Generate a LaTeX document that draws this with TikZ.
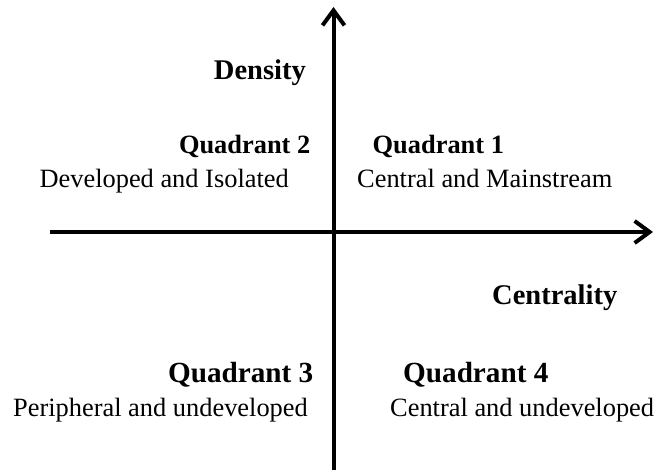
\documentclass[tikz,border=0pt]{standalone}
\usepackage{fontspec}
\setmainfont{Liberation Serif}
\usetikzlibrary{arrows.meta}
\begin{document}
\begin{tikzpicture}[x=1pt,y=1pt,
  axis/.style={line width=4pt,-{Straight Barb[length=15pt,width=22pt]}},
  lbl/.style={inner sep=0pt,font=\fontsize{26.4}{30}\selectfont},
  qsmall/.style={inner sep=0pt,font=\fontsize{26.4}{30}\selectfont\bfseries},
  qbig/.style={inner sep=0pt,font=\fontsize{29.2}{33}\selectfont\bfseries},
  axlbl/.style={inner sep=0pt,font=\fontsize{28.5}{32}\selectfont\bfseries}]
\useasboundingbox (0,0) rectangle (657,470);
\coordinate (vb) at (333.5,0);
\coordinate (vt) at (333.5,463);
\coordinate (hl) at (50,238);
\coordinate (hr) at (653,238);
\draw[axis] (vb) -- (vt);
\draw[axis] (hl) -- (hr);
\node[axlbl,anchor=base east] (dens) at (306,390) {Density};
\node[axlbl,anchor=base west] (cent) at (492,165) {Centrality};
\node[qsmall,anchor=base east] (q2) at (310.5,316) {Quadrant 2};
\node[lbl,anchor=base east] (q2t) at (289,282) {Developed and Isolated};
\node[qsmall,anchor=base west] (q1) at (372.5,316) {Quadrant 1};
\node[lbl,anchor=base west] (q1t) at (357,282) {Central and Mainstream};
\node[qbig,anchor=base east] (q3) at (313.5,87.5) {Quadrant 3};
\node[lbl,anchor=base east] (q3t) at (308,53.5) {Peripheral and undeveloped};
\node[qbig,anchor=base west] (q4) at (403,87.5) {Quadrant 4};
\node[lbl,anchor=base west] (q4t) at (390,53.5) {Central and undeveloped};
\end{tikzpicture}
\end{document}
